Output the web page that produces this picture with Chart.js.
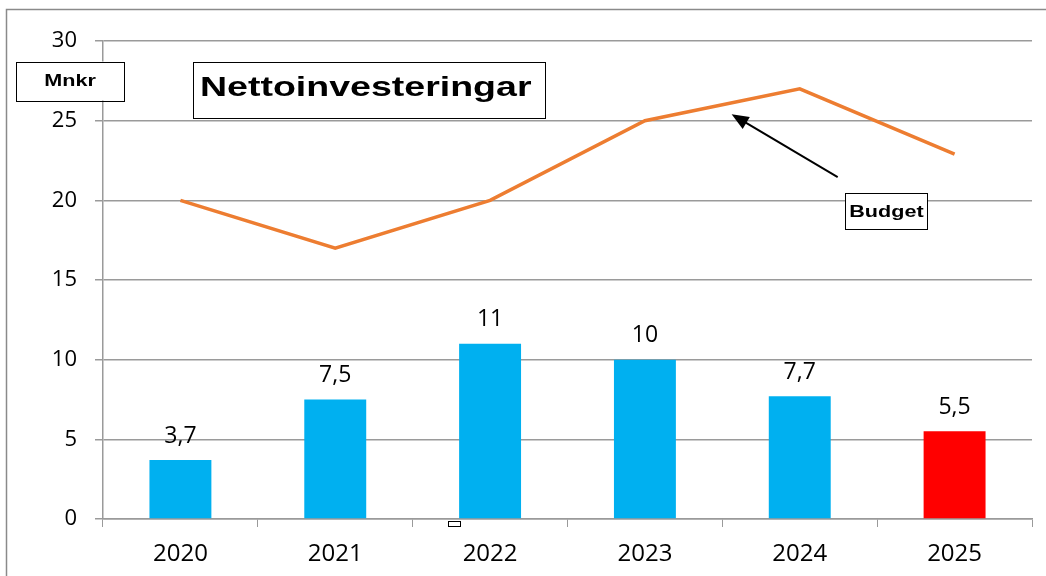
<!DOCTYPE html>
<html>
<head>
<meta charset="utf-8">
<script src="https://cdn.jsdelivr.net/npm/chart.js@4.4.0/dist/chart.umd.min.js"></script>
<style>
  html, body { margin: 0; padding: 0; background: #fff; }
  #wrap { width: 1046px; height: 576px; position: relative; }
</style>
</head>
<body>
<div id="wrap"><canvas id="grafica"></canvas></div>
<script>
// data
const years = ['2020', '2021', '2022', '2023', '2024', '2025'];
const netto = [3.7, 7.5, 11, 10, 7.7, 5.5];
const budget = [20, 17, 20, 25, 27, 22.9];
const barColors = ['#00B0F0', '#00B0F0', '#00B0F0', '#00B0F0', '#00B0F0', '#FF0000'];
const yTicks = [0, 5, 10, 15, 20, 25, 30];

const GRID = '#9a9a9a';
const FONT = '"Open Sans", "DejaVu Sans", sans-serif';

function fmt(v) { return String(v).replace('.', ','); }

// white box with black frame and wide bold text
function textBox(ctx, txt, cx, cy, w, h, size, stretch, left, dy) {
    ctx.save();
    ctx.fillStyle = '#fff';
    ctx.fillRect(cx - w / 2, cy - h / 2, w, h);
    ctx.strokeStyle = '#000';
    ctx.lineWidth = 1;
    ctx.strokeRect(Math.round(cx - w / 2) + 0.5, Math.round(cy - h / 2) + 0.5, w, h);
    ctx.font = 'bold ' + size + 'px "Liberation Sans", Arial, sans-serif';
    ctx.fillStyle = '#000';
    ctx.textBaseline = 'middle';
    const ty = cy + 1 + (dy || 0);
    if (left !== undefined) {
        ctx.textAlign = 'left';
        ctx.translate(cx - w / 2 + left, ty);
    } else {
        ctx.textAlign = 'center';
        ctx.translate(cx, ty);
    }
    ctx.scale(stretch, 1);
    ctx.fillText(txt, 0, 0);
    ctx.restore();
}

const etiquetas = {
    id: 'etiquetas',
    beforeDraw(chart) {
        const ctx = chart.ctx;
        ctx.save();
        ctx.strokeStyle = '#8a8a8a';
        ctx.lineWidth = 1.5;
        ctx.beginPath();
        ctx.moveTo(6.5, 576);
        ctx.lineTo(6.5, 9.5);
        ctx.lineTo(1046, 9.5);
        ctx.stroke();
        ctx.restore();
    },
    afterDatasetsDraw(chart) {
        const ctx = chart.ctx;
        const meta = chart.getDatasetMeta(0);
        ctx.save();
        ctx.font = '23px ' + FONT;
        ctx.fillStyle = '#000';
        ctx.textAlign = 'center';
        ctx.textBaseline = 'middle';
        meta.data.forEach((bar, i) => {
            ctx.fillText(fmt(netto[i]), bar.x, bar.y - 24);
        });
        ctx.restore();
    },
    afterDraw(chart) {
        const ctx = chart.ctx;
        const xs = chart.scales.x, ys = chart.scales.y;
        const area = chart.chartArea;

        // arrow pointing at the budget line
        const tx = xs.getPixelForValue(3.56), ty = ys.getPixelForValue(25.4);
        const fx = xs.getPixelForValue(4.245), fy = ys.getPixelForValue(21.45);
        const ang = Math.atan2(ty - fy, tx - fx);
        ctx.save();
        ctx.strokeStyle = '#000';
        ctx.fillStyle = '#000';
        ctx.lineWidth = 2;
        ctx.beginPath();
        ctx.moveTo(fx, fy);
        ctx.lineTo(tx - 12 * Math.cos(ang), ty - 12 * Math.sin(ang));
        ctx.stroke();
        ctx.beginPath();
        ctx.moveTo(tx, ty);
        ctx.lineTo(tx - 17 * Math.cos(ang) + 7 * Math.sin(ang), ty - 17 * Math.sin(ang) - 7 * Math.cos(ang));
        ctx.lineTo(tx - 17 * Math.cos(ang) - 7 * Math.sin(ang), ty - 17 * Math.sin(ang) + 7 * Math.cos(ang));
        ctx.closePath();
        ctx.fill();
        ctx.restore();

        textBox(ctx, 'Budget', xs.getPixelForValue(4.56), ys.getPixelForValue(19.3), 82, 36, 16, 1.35);
        textBox(ctx, 'Nettoinvesteringar', area.left + 266, area.top + 49, 352, 56, 28, 1.34, 7, -3);
        textBox(ctx, 'Mnkr', 70, area.top + 40, 108, 39, 16, 1.35);

        // little empty marker under the axis
        ctx.save();
        ctx.strokeStyle = '#000';
        ctx.lineWidth = 1;
        ctx.strokeRect(Math.round(xs.getPixelForValue(1.73)) + 0.5, area.bottom + 2.5, 12, 5);
        ctx.restore();
    }
};

new Chart(document.getElementById('grafica').getContext('2d'), {
    data: {
        labels: years,
        datasets: [{
            type: 'bar',
            label: 'Nettoinvesteringar',
            data: netto,
            backgroundColor: barColors,
            barPercentage: 0.4,
            categoryPercentage: 1,
            order: 2
        }, {
            type: 'line',
            label: 'Budget',
            data: budget,
            borderColor: '#ED7D31',
            borderWidth: 3.5,
            pointRadius: 0,
            tension: 0,
            fill: false,
            order: 1
        }]
    },
    options: {
        responsive: true,
        maintainAspectRatio: false,
        animation: false,
        layout: { padding: { top: 41, right: 14, left: 0, bottom: 0 } },
        plugins: { legend: { display: false }, tooltip: { enabled: false } },
        scales: {
            x: {
                offset: true,
                grid: { display: true, drawOnChartArea: false, color: GRID, tickLength: 8, offset: true },
                border: { color: GRID, width: 1.5 },
                ticks: { color: '#000', font: { family: FONT, size: 24 }, padding: 13, maxRotation: 0 },
                afterFit(s) { s.height = 57; }
            },
            y: {
                min: 0,
                max: 30,
                afterBuildTicks(s) { s.ticks = yTicks.map(v => ({ value: v })); },
                grid: { color: GRID, lineWidth: 1.5, tickLength: 8 },
                border: { color: GRID, width: 1.5 },
                ticks: { color: '#000', font: { family: FONT, size: 22 }, padding: 18 },
                afterFit(s) { s.width = 103; }
            }
        }
    },
    plugins: [etiquetas]
});
</script>
</body>
</html>
